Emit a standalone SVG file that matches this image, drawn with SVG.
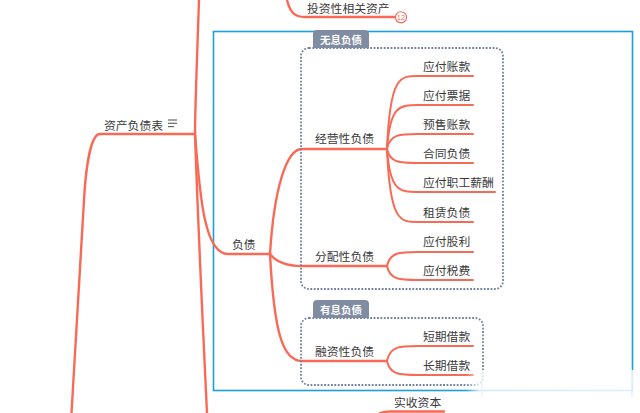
<svg xmlns="http://www.w3.org/2000/svg" width="640" height="413" viewBox="0 0 640 413">
<defs>
<style>
.ln{fill:none;stroke:#f86a56;stroke-width:2.4;stroke-linecap:round}
.lf{fill:none;stroke:#f86a56;stroke-width:2;stroke-linecap:round}
.t{font-family:"Noto Sans CJK SC","Microsoft YaHei",sans-serif;font-size:11.8px;fill:#3a3a3a;dominant-baseline:central}
.tab{fill:#7f8ca2}
.tt{font-family:"Noto Sans CJK SC",sans-serif;font-size:10.5px;font-weight:bold;fill:#ffffff;text-anchor:middle;dominant-baseline:central}
.dot{fill:none;stroke:#7081a0;stroke-width:1.8;stroke-dasharray:1.8 1.6}
</style>
<linearGradient id="fade" x1="0" y1="0" x2="1" y2="0">
<stop offset="0" stop-color="#fff" stop-opacity="0"/>
<stop offset="0.08" stop-color="#fff" stop-opacity="0.8"/>
<stop offset="1" stop-color="#fff" stop-opacity="0.85"/>
</linearGradient>
</defs>
<rect width="640" height="413" fill="#fff"/>
<rect id="boundary" x="213.5" y="31.5" width="419" height="359" fill="none" stroke="#1a9fe2" stroke-width="1.6"/>
<g id="connectors">
<path class="ln" d="M199,0 C197,60 195,110 195,134"/>
<path class="ln" d="M195,134 L100,134 C91,134 86,165 84,200 L71.5,413"/>
<path class="ln" d="M195,134 C200,200 205,254 228,254 L270,254"/>
<path class="ln" d="M195,134 C199,250 204,350 207,413"/>
<path class="ln" d="M287,0 C290,12 294,17 305,17 L395,17"/>
<path class="ln" d="M270,254 C274,190 286,149 302,149 L387,149"/>
<path class="ln" d="M270,254 C276,262 286,266 302,266 L387,266"/>
<path class="ln" d="M270,254 C274,330 282,361 302,361 L387,361"/>
<path class="lf" d="M387,149 C390,76 400,76 418,76 L473,76"/>
<path class="lf" d="M387,149 C390,105 400,105 418,105 L473,105"/>
<path class="lf" d="M387,149 C390,134 400,134 418,134 L473,134"/>
<path class="lf" d="M387,149 C390,163 400,163 418,163 L473,163"/>
<path class="lf" d="M387,149 C390,192 400,192 418,192 L495,192"/>
<path class="lf" d="M387,149 C390,222 400,222 418,222 L473,222"/>
<path class="lf" d="M387,266 C390,252 400,252 418,252 L473,252"/>
<path class="lf" d="M387,266 C390,280 400,280 418,280 L473,280"/>
<path class="lf" d="M387,361 C390,346 400,346 418,346 L473,346"/>
<path class="lf" d="M387,361 C390,375 400,375 418,375 L473,375"/>
<path class="ln" d="M380,413 Q384,411.5 390,411.5 L444,411.5"/>
</g>
<g id="group-wuxi">
<rect class="dot" x="301" y="48" width="202" height="241" rx="8"/>
<path class="tab" d="M313,48 L313,34 Q313,30 317,30 L365,30 Q369,30 369,34 L369,48 Z"/>
<text class="tt" x="341" y="39.5">无息负债</text>
</g>
<g id="group-youxi">
<rect class="dot" x="301" y="318" width="182" height="67" rx="8"/>
<path class="tab" d="M313,318 L313,304 Q313,300 317,300 L365,300 Q369,300 369,304 L369,318 Z"/>
<text class="tt" x="341" y="309.5">有息负债</text>
</g>
<g id="node-root">
<text class="t" x="104" y="124">资产负债表</text>
<g stroke="#666" stroke-width="1.2">
<line x1="168" y1="120" x2="177" y2="120"/>
<line x1="168" y1="123.3" x2="177" y2="123.3"/>
<line x1="168" y1="126.6" x2="174" y2="126.6"/>
</g>
</g>
<g id="node-touzi">
<text class="t" x="307" y="7">投资性相关资产</text>
<circle cx="401" cy="17.3" r="5.6" fill="#fff" stroke="#f86a56" stroke-width="1.1"/>
<text x="401" y="17.6" font-family="Liberation Sans,sans-serif" font-size="7.5" fill="#f86a56" text-anchor="middle" dominant-baseline="central">12</text>
</g>
<g id="node-fuzhai"><text class="t" x="232" y="243">负债</text></g>
<g id="node-jingying"><text class="t" x="315" y="137">经营性负债</text></g>
<g id="node-fenpei"><text class="t" x="315" y="255">分配性负债</text></g>
<g id="node-rongzi"><text class="t" x="315" y="350">融资性负债</text></g>
<g id="node-l1"><text class="t" x="423" y="65">应付账款</text></g>
<g id="node-l2"><text class="t" x="423" y="94">应付票据</text></g>
<g id="node-l3"><text class="t" x="423" y="123.5">预售账款</text></g>
<g id="node-l4"><text class="t" x="423" y="152.5">合同负债</text></g>
<g id="node-l5"><text class="t" x="423" y="181.5">应付职工薪酬</text></g>
<g id="node-l6"><text class="t" x="423" y="211">租赁负债</text></g>
<g id="node-l7"><text class="t" x="423" y="240.5">应付股利</text></g>
<g id="node-l8"><text class="t" x="423" y="269.5">应付税费</text></g>
<g id="node-l9"><text class="t" x="423" y="335">短期借款</text></g>
<g id="node-l10"><text class="t" x="423" y="364">长期借款</text></g>
<g id="node-shishou"><text class="t" x="394" y="401">实收资本</text></g>
<rect x="466" y="370" width="172" height="28" fill="url(#fade)"/>
<line x1="482" y1="371" x2="482" y2="397" stroke="#e8ecf0" stroke-width="1"/>
<line x1="632" y1="371" x2="632" y2="397" stroke="#dbeaf5" stroke-width="1"/>
</svg>
